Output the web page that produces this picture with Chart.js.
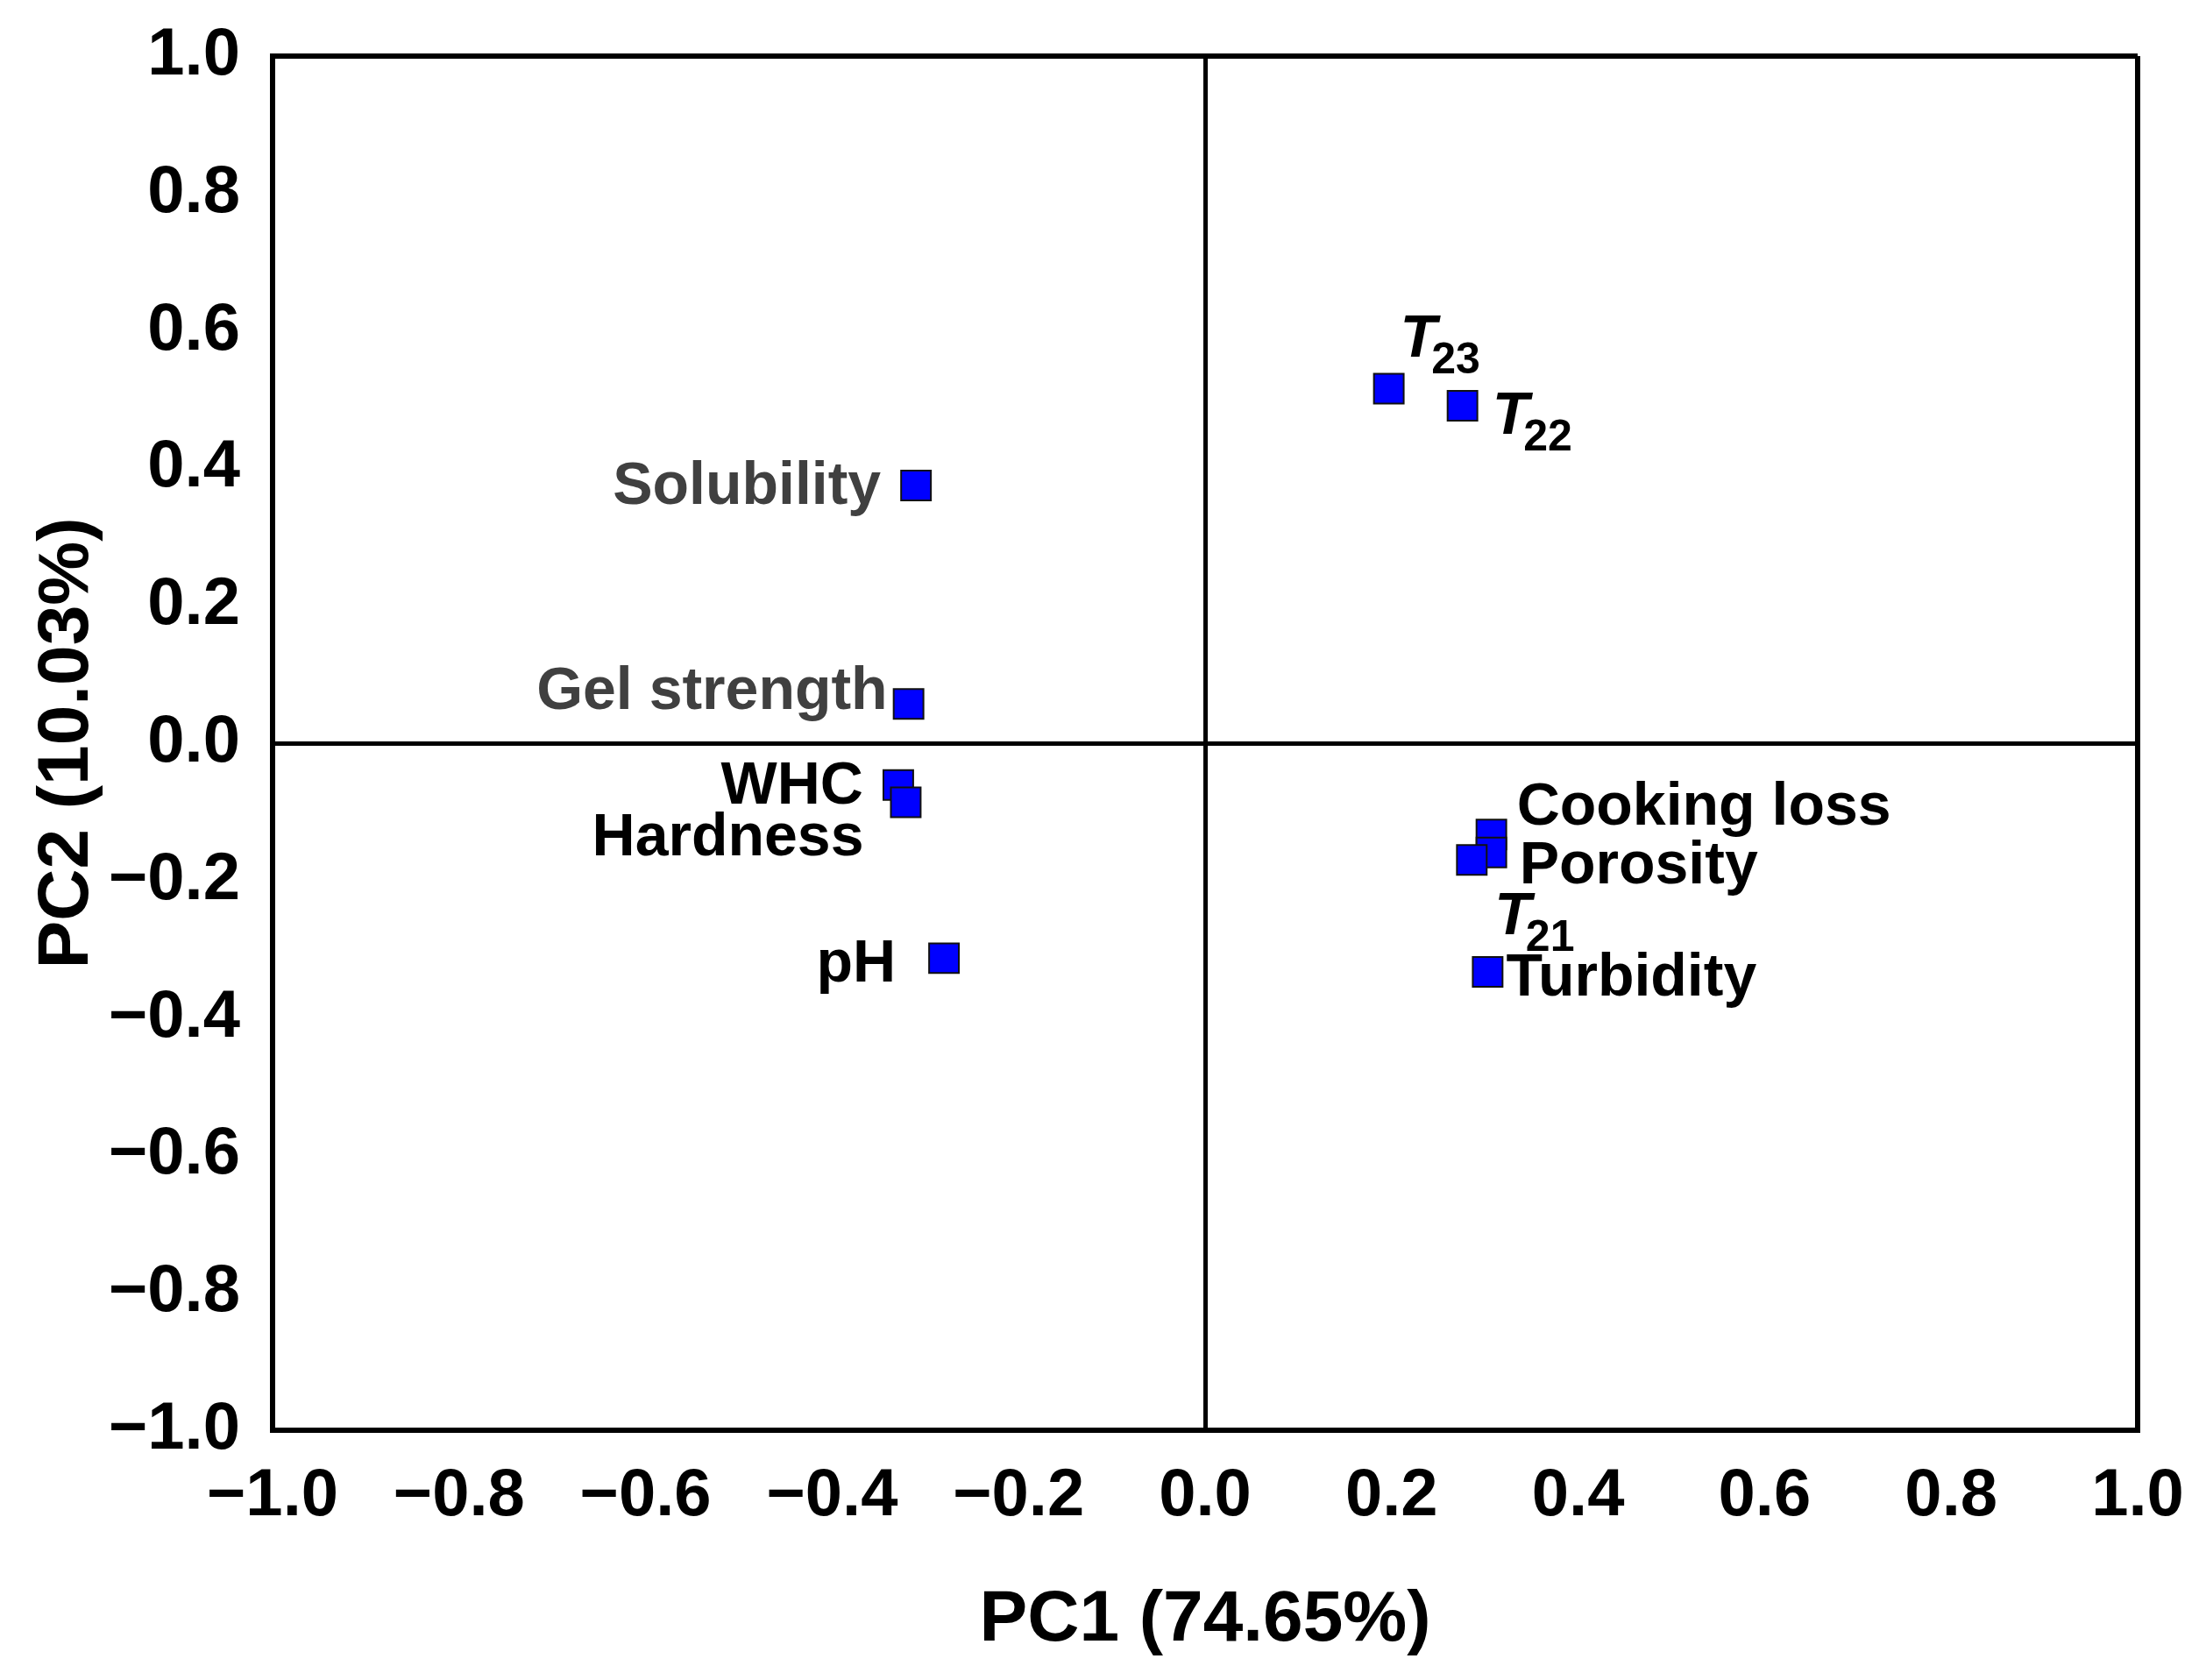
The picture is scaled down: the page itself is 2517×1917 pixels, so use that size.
<!DOCTYPE html>
<html>
<head>
<meta charset="utf-8">
<title>PCA loading plot</title>
<script src="https://cdn.jsdelivr.net/npm/chart.js@4.4.1/dist/chart.umd.min.js"></script>
<style>
  html, body { margin: 0; padding: 0; background: #fff; }
  canvas { display: block; }
</style>
</head>
<body>
<canvas id="pca" width="2517" height="1917"></canvas>
<script>
// ============================================================
// Data
// ============================================================

const pointNames = ['Solubility', 'Gel strength', 'WHC', 'Hardness', 'pH',
  'T_23', 'T_22', 'Cooking loss', 'Porosity', 'T_21', 'Turbidity'];
const pc1 = [-0.310, -0.318, -0.329, -0.321, -0.280, 0.197, 0.276, 0.307, 0.307, 0.286, 0.303];
const pc2 = [0.375, 0.057, -0.061, -0.086, -0.313, 0.516, 0.491, -0.133, -0.159, -0.170, -0.333];

const xTickLabels = ['\u22121.0', '\u22120.8', '\u22120.6', '\u22120.4', '\u22120.2', '0.0',
  '0.2', '0.4', '0.6', '0.8', '1.0'];
const yTickLabels = ['\u22121.0', '\u22120.8', '\u22120.6', '\u22120.4', '\u22120.2', '0.0',
  '0.2', '0.4', '0.6', '0.8', '1.0'];

const xTitle = 'PC1 (74.65%)';
const yTitle = 'PC2 (10.03%)';

// ============================================================
// Label placement (pixel offsets from the marker, align, colour)
// ============================================================

const labelStyle = [
  { dx: -40, dy: 21, align: 'right', color: '#404040' },
  { dx: -24, dy: 6, align: 'right', color: '#404040' },
  { dx: -40, dy: 21, align: 'right', color: '#000' },
  { dx: -48, dy: 61, align: 'right', color: '#000' },
  { dx: -55, dy: 27, align: 'right', color: '#000' },
  { dx: 13, dy: -36, align: 'left', color: '#000' },
  { dx: 34, dy: 32, align: 'left', color: '#000' },
  { dx: 29, dy: -11, align: 'left', color: '#000' },
  { dx: 32, dy: 35, align: 'left', color: '#000' },
  { dx: 26, dy: 85, align: 'left', color: '#000' },
  { dx: 21, dy: 27, align: 'left', color: '#000' }
];

const FONT = '"Liberation Sans", Arial, sans-serif';

// ============================================================
// Plugins
// ============================================================

const pointLabels = {
  id: 'pointLabels',
  afterDatasetsDraw(chart) {
    const ctx = chart.ctx;
    const meta = chart.getDatasetMeta(0);
    ctx.save();
    ctx.textBaseline = 'alphabetic';
    meta.data.forEach((pt, i) => {
      const name = pointNames[i];
      const st = labelStyle[i];
      const x = pt.x + st.dx;
      const y = pt.y + st.dy;
      ctx.fillStyle = st.color;
      if (name.indexOf('_') > 0) {
        const [main, sub] = name.split('_');
        ctx.textAlign = 'left';
        ctx.font = 'italic bold 68px ' + FONT;
        ctx.fillText(main, x, y);
        const w = ctx.measureText(main).width;
        ctx.font = 'bold 50px ' + FONT;
        ctx.fillText(sub, x + w - 6, y + 19);
      } else {
        ctx.textAlign = st.align;
        ctx.font = 'bold 68px ' + FONT;
        ctx.fillText(name, x, y);
      }
    });
    ctx.restore();
  }
};

// ============================================================
// Chart
// ============================================================

function isEdge(v) { return Math.abs(Math.abs(v) - 1) < 1e-9; }
function isZero(v) { return Math.abs(v) < 1e-9; }

const gridOpts = {
  drawTicks: false,
  color: c => (isEdge(c.tick.value) || isZero(c.tick.value)) ? '#000' : 'rgba(0,0,0,0)',
  lineWidth: c => isEdge(c.tick.value) ? 6 : (isZero(c.tick.value) ? 5 : 0)
};

// fixed box sizes so the plot frame sits where the original one does
function fitX(s) {
  s.height = 285;
  s.paddingLeft = 0;
  s.paddingRight = 0;
}
function fitY(s) {
  s.width = 311;
  s.paddingTop = 0;
  s.paddingBottom = 0;
}

const ctx = document.getElementById('pca').getContext('2d');

new Chart(ctx, {
  type: 'scatter',
  data: {
    datasets: [{
      data: pc1.map((v, i) => ({ x: v, y: pc2[i] })),
      pointStyle: 'rect',
      pointRadius: 24,
      pointHoverRadius: 24,
      backgroundColor: '#0000FF',
      borderColor: '#111',
      borderWidth: 2
    }]
  },
  options: {
    responsive: false,
    devicePixelRatio: 1,
    animation: false,
    layout: { padding: { left: 0, top: 64, right: 78, bottom: 0 } },
    plugins: {
      legend: { display: false },
      tooltip: { enabled: false }
    },
    scales: {
      x: {
        type: 'linear',
        min: -1, max: 1,
        afterFit: fitX,
        border: { display: true, color: '#000', width: 6 },
        grid: gridOpts,
        ticks: {
          stepSize: 0.2,
          padding: 30,
          color: '#000',
          font: { family: FONT, size: 76, weight: 'bold' },
          callback: (v, i) => xTickLabels[i]
        },
        title: {
          display: true,
          text: xTitle,
          color: '#000',
          font: { family: FONT, size: 82, weight: 'bold' },
          padding: { top: 0, bottom: 18 }
        }
      },
      y: {
        type: 'linear',
        min: -1, max: 1,
        afterFit: fitY,
        border: { display: true, color: '#000', width: 6 },
        grid: gridOpts,
        ticks: {
          stepSize: 0.2,
          padding: 37,
          color: '#000',
          font: { family: FONT, size: 76, weight: 'bold' },
          callback: (v, i) => yTickLabels[i]
        },
        title: {
          display: true,
          text: yTitle,
          color: '#000',
          font: { family: FONT, size: 82, weight: 'bold' },
          padding: { top: 28, bottom: 0 }
        }
      }
    }
  },
  plugins: [pointLabels]
});
</script>
</body>
</html>
